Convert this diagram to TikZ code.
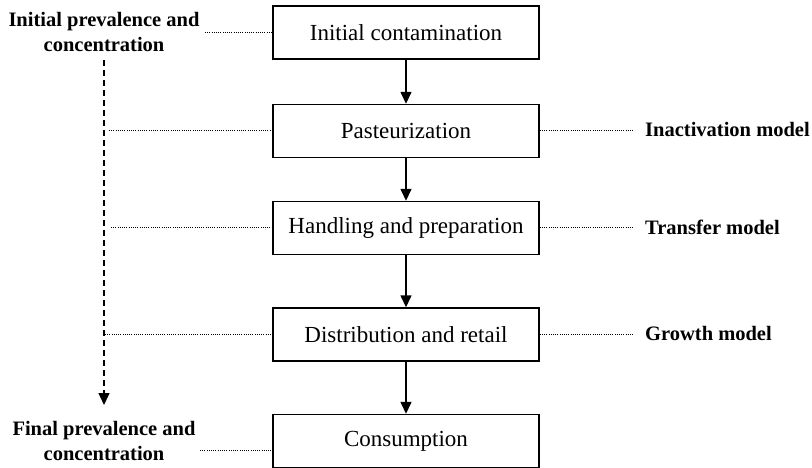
\documentclass[tikz,border=0pt]{standalone}
\usepackage{fontspec}
\setmainfont{Liberation Serif}
\usetikzlibrary{arrows.meta}
\begin{document}
\begin{tikzpicture}[x=1pt,y=-1pt,
  stage/.style={draw,line width=1.4pt,minimum width=266pt,minimum height=53pt,inner sep=0pt,
    font=\fontsize{23}{26}\selectfont},
  sidelab/.style={inner sep=0pt,align=center,font=\bfseries\fontsize{20.5}{25}\selectfont},
  modlab/.style={inner sep=0pt,anchor=base west,font=\bfseries\fontsize{20.5}{25}\selectfont},
  flow/.style={line width=1.4pt,-{Triangle[length=12pt,width=11pt]}},
  dots/.style={line width=1pt,dash pattern=on 1pt off 1.2pt},
  trend/.style={line width=1.4pt,dash pattern=on 6pt off 4pt,-{Triangle[length=12pt,width=11pt]}}]
\useasboundingbox (0,0) rectangle (812,468);
\node[stage] (b1) at (406,32.5) {Initial contamination};
\node[stage] (b2) at (406,131) {Pasteurization};
\node[stage] (b3) at (406,228) {Handling and preparation};
\node[stage] (b4) at (406,334.5) {Distribution and retail};
\node[stage] (b5) at (406,441) {Consumption};
\draw[flow] (b1) -- (b2);
\draw[flow] (b2) -- (b3);
\draw[flow] (b3) -- (b4);
\draw[flow] (b4) -- (b5);
\node[sidelab] (init) at (104,32) {Initial prevalence and\\concentration};
\node[sidelab] (fin) at (104,440.5) {Final prevalence and\\concentration};
\coordinate (ds) at (104,60);
\coordinate (de) at (104,405);
\draw[trend] (ds) -- (de);
\coordinate (l1) at (205,32.5);
\coordinate (l2) at (109,131);
\coordinate (l3) at (111,228);
\coordinate (l4) at (105,334.5);
\coordinate (l5) at (200,450.5);
\draw[dots] (l1) -- (b1.west);
\draw[dots] (l2) -- (b2.west);
\draw[dots] (l3) -- (b3.west);
\draw[dots] (l4) -- (b4.west);
\draw[dots] (l5) -- (l5 -| b5.west);
\node[modlab] (m1) at (645,137) {Inactivation model};
\node[modlab] (m2) at (645,234) {Transfer model};
\node[modlab] (m3) at (645,340.5) {Growth model};
\coordinate (r1) at (633,131);
\coordinate (r2) at (633,228);
\coordinate (r3) at (633,334.5);
\draw[dots] (b2.east) -- (r1);
\draw[dots] (b3.east) -- (r2);
\draw[dots] (b4.east) -- (r3);
\end{tikzpicture}
\end{document}
